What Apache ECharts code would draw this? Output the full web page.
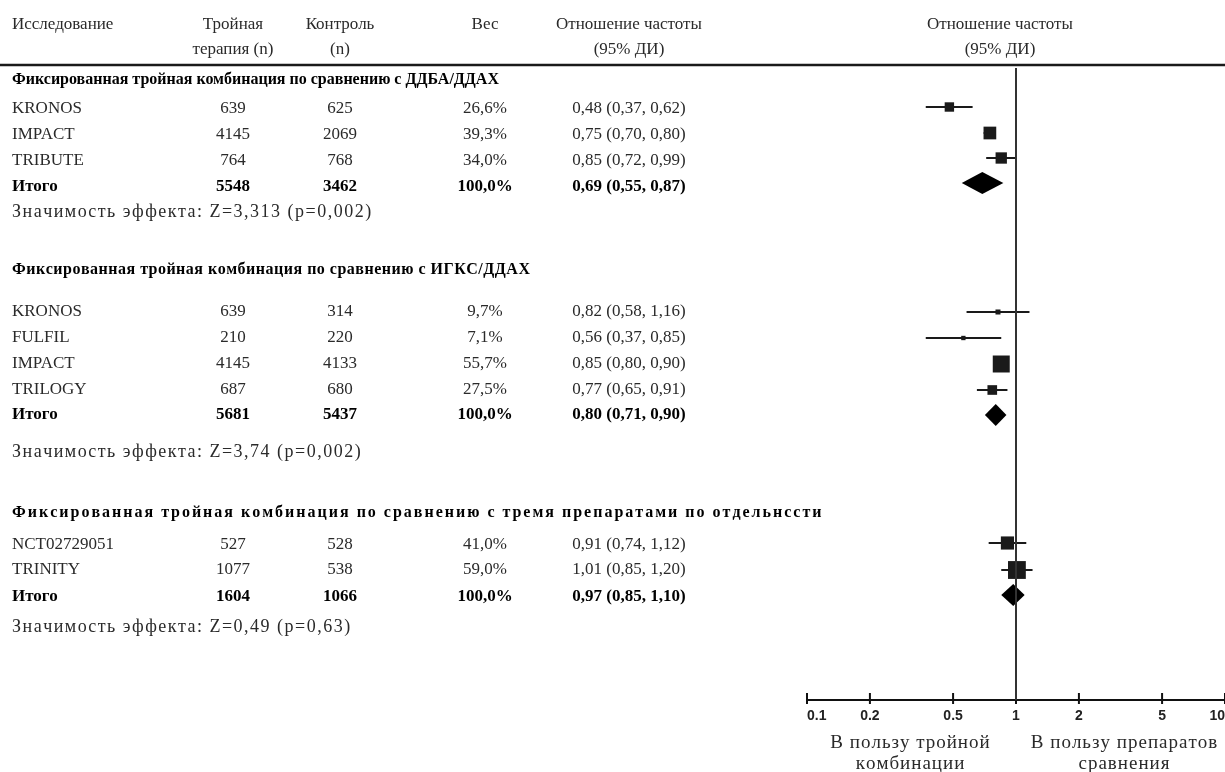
<!DOCTYPE html>
<html><head><meta charset="utf-8">
<script src="https://cdn.jsdelivr.net/npm/echarts@6/dist/echarts.min.js"></script>
<style>html,body{margin:0;padding:0;background:#fff}#c{width:1225px;height:772px}</style>
</head><body><div id="c"></div>
<script>
// ---------------- DATA ----------------
const groupTitles = [
  'Фиксированная тройная комбинация по сравнению с ДДБА/ДДАХ',
  'Фиксированная тройная комбинация по сравнению с ИГКС/ДДАХ',
  'Фиксированная тройная комбинация по сравнению с тремя препаратами по отдельнссти'
];
const studyGroup   = [0, 0, 0, 1, 1, 1, 1, 2, 2];
const studyNames   = ['KRONOS', 'IMPACT', 'TRIBUTE', 'KRONOS', 'FULFIL', 'IMPACT', 'TRILOGY', 'NCT02729051', 'TRINITY'];
const tripleN      = [639, 4145, 764, 639, 210, 4145, 687, 527, 1077];
const controlN     = [625, 2069, 768, 314, 220, 4133, 680, 528, 538];
const weights      = [26.6, 39.3, 34.0, 9.7, 7.1, 55.7, 27.5, 41.0, 59.0];
const ratios       = [0.48, 0.75, 0.85, 0.82, 0.56, 0.85, 0.77, 0.91, 1.01];
const lowerCI      = [0.37, 0.70, 0.72, 0.58, 0.37, 0.80, 0.65, 0.74, 0.85];
const upperCI      = [0.62, 0.80, 0.99, 1.16, 0.85, 0.90, 0.91, 1.12, 1.20];
const totalTriple  = [5548, 5681, 1604];
const totalControl = [3462, 5437, 1066];
const totalWeight  = [100.0, 100.0, 100.0];
const totalRatio   = [0.69, 0.80, 0.97];
const totalLower   = [0.55, 0.71, 0.85];
const totalUpper   = [0.87, 0.90, 1.10];
const effectTests  = ['Z=3,313 (p=0,002)', 'Z=3,74 (p=0,002)', 'Z=0,49 (p=0,63)'];
const tickValues   = [0.1, 0.2, 0.5, 1, 2, 5, 10];
const tickLabels   = ['0.1', '0.2', '0.5', '1', '2', '5', '10'];

// ---------------- LAYOUT (row positions in line units) ----------------
const headingLine = [0.6, 8.2, 17.92];
const studyLine   = [1.76, 2.8, 3.84, 9.88, 10.92, 11.96, 13.0, 19.2, 20.2];
const totalLine   = [4.88, 14.0, 21.28];
const effectLine  = [5.88, 15.48, 22.48];
const studyMark   = [1.68, 2.72, 3.72, 9.88, 10.92, 11.96, 13.0, 19.12, 20.2];
const totalMark   = [4.72, 14.0, 21.2];
const Y_MAX = 25.4;
const COL = {name: 12, triple: 233, control: 340, weight: 485, ratio: 629};
const SERIF = '"Liberation Serif", "Times New Roman", serif';
const FS = 17, FS_HEAD = 16, FS_EFFECT = 18;
const INK = '#1a1a1a';
const headingSpacing = [0, 0.5, 2.0];
const effectSpacing = 1.5;
const captionSpacing = 1;

const fmt = v => v.toFixed(2).replace('.', ',');
const fmtW = v => v.toFixed(1).replace('.', ',') + '%';
const ciText = (r, l, u) => fmt(r) + ' (' + fmt(l) + ', ' + fmt(u) + ')';

// letter-spaced drawing for a few strings (the source figure is letter-spaced there)
const spacingMap = new Map();
groupTitles.forEach((t, g) => { if (headingSpacing[g]) spacingMap.set(t, headingSpacing[g]); });
effectTests.forEach(t => spacingMap.set('Значимость эффекта: ' + t, effectSpacing));
['В пользу тройной', 'комбинации', 'В пользу препаратов', 'сравнения'].forEach(t => spacingMap.set(t, captionSpacing));
(function () {
  const P = CanvasRenderingContext2D.prototype;
  const orig = P.fillText;
  P.fillText = function (t, x, y, w) {
    const ls = spacingMap.get(t);
    if (!ls) return orig.apply(this, arguments);
    const chars = Array.from(t);
    const widths = chars.map(c => this.measureText(c).width);
    const total = widths.reduce((a, b) => a + b, 0) + ls * (chars.length - 1);
    const align = this.textAlign;
    let sx = x;
    if (align === 'center') sx = x - total / 2;
    else if (align === 'right' || align === 'end') sx = x - total;
    this.textAlign = 'left';
    chars.forEach((c, i) => { orig.call(this, c, sx, y); sx += widths[i] + ls; });
    this.textAlign = align;
  };
})();

// table cells
const cells = [];
groupTitles.forEach((t, g) => cells.push({t, x: COL.name, line: headingLine[g], bold: true, fs: FS_HEAD, align: 'left'}));
studyNames.forEach((n, i) => {
  const L = studyLine[i];
  cells.push({t: n, x: COL.name, line: L, align: 'left'});
  cells.push({t: String(tripleN[i]), x: COL.triple, line: L, align: 'center'});
  cells.push({t: String(controlN[i]), x: COL.control, line: L, align: 'center'});
  cells.push({t: fmtW(weights[i]), x: COL.weight, line: L, align: 'center'});
  cells.push({t: ciText(ratios[i], lowerCI[i], upperCI[i]), x: COL.ratio, line: L, align: 'center'});
});
totalTriple.forEach((v, g) => {
  const L = totalLine[g];
  cells.push({t: 'Итого', x: COL.name, line: L, bold: true, align: 'left'});
  cells.push({t: String(v), x: COL.triple, line: L, bold: true, align: 'center'});
  cells.push({t: String(totalControl[g]), x: COL.control, line: L, bold: true, align: 'center'});
  cells.push({t: fmtW(totalWeight[g]), x: COL.weight, line: L, bold: true, align: 'center'});
  cells.push({t: ciText(totalRatio[g], totalLower[g], totalUpper[g]), x: COL.ratio, line: L, bold: true, align: 'center'});
  cells.push({t: 'Значимость эффекта: ' + effectTests[g], x: COL.name, line: effectLine[g], fs: FS_EFFECT, align: 'left'});
});

const chart = echarts.init(document.getElementById('c'), null, {renderer: 'canvas'});

const studyData = studyNames.map((n, i) => [ratios[i], lowerCI[i], upperCI[i], studyMark[i], weights[i]]);
const totalData = totalRatio.map((r, g) => [r, totalLower[g], totalUpper[g], totalMark[g]]);

const headerText = (text, x, y, align, size) => ({
  type: 'text', x, y,
  style: {text, fill: '#2a2a2a', font: (size || FS) + 'px ' + SERIF, align: align || 'center', verticalAlign: 'middle'}
});

chart.setOption({
  animation: false,
  backgroundColor: '#fff',
  grid: {left: 807, right: 0, top: 65, bottom: 72, containLabel: false, outerBoundsMode: 'none'},
  xAxis: {
    type: 'log', logBase: 10, min: 0.1, max: 10, position: 'bottom',
    axisLine: {show: true, onZero: false, lineStyle: {color: '#111', width: 2}},
    axisTick: {show: false},
    axisLabel: {show: true, margin: 9, customValues: tickValues, alignMinLabel: 'left', alignMaxLabel: 'right',
      formatter: v => { const k = tickValues.findIndex(t => Math.abs(t - v) < 1e-9); return k >= 0 ? tickLabels[k] : ''; },
      fontFamily: '"Liberation Sans", Arial, sans-serif', fontWeight: 'bold', fontSize: 14, color: '#222'},
    splitLine: {show: false}
  },
  yAxis: {type: 'value', inverse: true, min: 0, max: Y_MAX, show: false},
  series: [
    { // reference line at 1
      type: 'line', symbol: 'none', silent: true,
      lineStyle: {color: '#333', width: 2},
      data: [[1, 0.12], [1, Y_MAX]]
    },
    { // axis ticks crossing the axis line
      type: 'custom', clip: false, silent: true,
      encode: {x: 0, y: 1},
      data: tickValues.map(v => [v, Y_MAX]),
      renderItem: (params, api) => {
        const p = api.coord([api.value(0), api.value(1)]);
        return {type: 'line', shape: {x1: p[0], y1: p[1] - 7, x2: p[0], y2: p[1] + 4},
          style: {stroke: '#111', lineWidth: 2}};
      }
    },
    { // studies
      type: 'custom', clip: false,
      encode: {x: [0, 1, 2], y: 3},
      data: studyData,
      renderItem: (params, api) => {
        const y = api.value(3);
        const c = api.coord([api.value(0), y]);
        const lo = api.coord([api.value(1), y]);
        const hi = api.coord([api.value(2), y]);
        const s = 2.5 + 0.26 * api.value(4);
        return {type: 'group', children: [
          {type: 'line', shape: {x1: lo[0], y1: lo[1], x2: hi[0], y2: hi[1]}, style: {stroke: INK, lineWidth: 2}},
          {type: 'rect', shape: {x: c[0] - s / 2, y: c[1] - s / 2, width: s, height: s}, style: {fill: INK}}
        ]};
      }
    },
    { // pooled diamonds
      type: 'custom', clip: false,
      encode: {x: [0, 1, 2], y: 3},
      data: totalData,
      renderItem: (params, api) => {
        const y = api.value(3);
        const c = api.coord([api.value(0), y]);
        const lo = api.coord([api.value(1), y]);
        const hi = api.coord([api.value(2), y]);
        const h = 11;
        return {type: 'polygon', shape: {points: [[lo[0], c[1]], [c[0], c[1] - h], [hi[0], c[1]], [c[0], c[1] + h]]},
          style: {fill: '#000'}};
      }
    },
    { // table text
      type: 'custom', clip: false, silent: true,
      encode: {x: 0, y: 1},
      data: cells.map((c, i) => [1, c.line, i]),
      renderItem: (params, api) => {
        const cell = cells[params.dataIndex];
        const y = api.coord([1, api.value(1)])[1];
        return {type: 'text', x: cell.x, y,
          style: {text: cell.t, fill: cell.bold ? '#000' : '#2a2a2a',
            font: (cell.bold ? 'bold ' : '') + (cell.fs || FS) + 'px ' + SERIF,
            align: cell.align, verticalAlign: 'middle'}};
      }
    }
  ],
  graphic: [
    headerText('Исследование', 12, 25, 'left'),
    headerText('Тройная', COL.triple, 25),
    headerText('терапия (n)', COL.triple, 50),
    headerText('Контроль', COL.control, 25),
    headerText('(n)', COL.control, 50),
    headerText('Вес', COL.weight, 25),
    headerText('Отношение частоты', COL.ratio, 25),
    headerText('(95% ДИ)', COL.ratio, 50),
    headerText('Отношение частоты', 1000, 25),
    headerText('(95% ДИ)', 1000, 50),
    {type: 'line', shape: {x1: 0, y1: 65, x2: 1225, y2: 65}, style: {stroke: '#1a1a1a', lineWidth: 2.5}},
    headerText('В пользу тройной', 910, 743, 'center', 19),
    headerText('комбинации', 910, 764, 'center', 19),
    headerText('В пользу препаратов', 1124, 743, 'center', 19),
    headerText('сравнения', 1124, 764, 'center', 19)
  ]
});
</script></body></html>
